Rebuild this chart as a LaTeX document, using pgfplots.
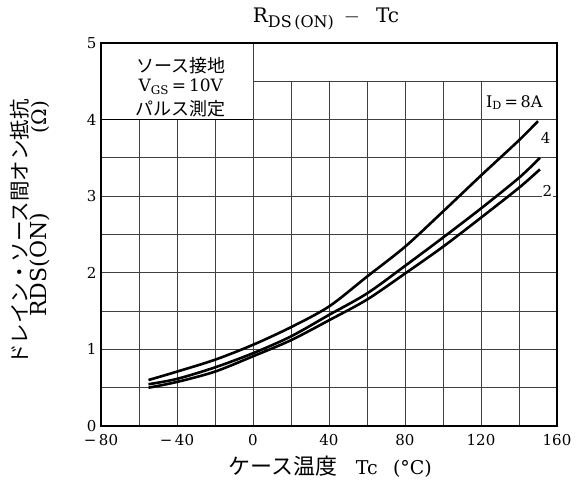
\documentclass[border=0pt]{standalone}
\usepackage{fontspec}
\setmainfont{DejaVu Serif}
\usepackage{pgfplots}
\pgfplotsset{compat=1.18}
\newfontfamily\jp{Noto Sans CJK JP}

\pgfplotstableread{
x y
-55 0.60
-40 0.71
-20 0.865
0 1.06
20 1.29
40 1.56
60 1.95
80 2.34
100 2.80
120 3.27
140 3.73
150 3.98
}\idA

\pgfplotstableread{
x y
-55 0.545
-40 0.615
-20 0.765
0 0.95
20 1.17
40 1.45
60 1.73
80 2.09
100 2.46
120 2.84
140 3.24
151 3.50
}\idB

\pgfplotstableread{
x y
-55 0.50
-40 0.575
-20 0.71
0 0.91
20 1.12
40 1.38
60 1.65
80 1.99
100 2.34
120 2.72
140 3.11
151 3.35
}\idC

\begin{document}
\begin{tikzpicture}
\tikzset{gl/.style={black!75, line width=0.8pt}}
\begin{axis}[
  name=ax,
  scale only axis,
  width=456pt, height=383pt,
  xmin=-80, xmax=160, ymin=0, ymax=5,
  xtick={-80,-40,...,160},
  xticklabels={−\,80,−\,40,0,40,80,120,160},
  minor xtick={-60,-20,...,140},
  ytick={0,...,5},
  yticklabels={0,1,2,3,4,5},
  minor ytick={0.5,1.5,...,4.5},
  grid=both,
  grid style={gl},
  minor grid style={gl},
  major grid style={gl},
  major tick length=0pt, minor tick length=0pt,
  axis line style={line width=1.8pt},
  tick label style={font=\fontsize{15}{18}\selectfont},
  xticklabel style={yshift=-5pt},
  yticklabel style={xshift=-1pt},
  clip=false,
]
% blank regions of the grid
\fill[white] (axis cs:-80,4) rectangle (axis cs:0,5);
\fill[white] (axis cs:0,4.5) rectangle (axis cs:160,5);
\fill[white] (axis cs:120,4) rectangle (axis cs:160,4.5);
\draw[gl] (axis cs:-80,4) -- (axis cs:160,4);
\draw[gl] (axis cs:0,4.5) -- (axis cs:160,4.5);
\draw[gl] (axis cs:0,4) -- (axis cs:0,5);
\draw[gl] (axis cs:120,4) -- (axis cs:120,4.5);
\draw[line width=1.2pt] (axis cs:-80,4) -- (axis cs:0,4);
\draw[line width=1.8pt] (rel axis cs:0,0) rectangle (rel axis cs:1,1);

\addplot[black, line width=2.6pt, smooth] table {\idA};
\addplot[black, line width=2.6pt, smooth] table {\idB};
\addplot[black, line width=2.6pt, smooth] table {\idC};

\node[font=\fontsize{18}{20}\selectfont\jp] at (axis cs:-38,4.71) {ソース接地};
\node[font=\fontsize{17}{20}\selectfont] at (axis cs:-38,4.43) {V\textsubscript{GS}\,=\,10V};
\node[font=\fontsize{18}{20}\selectfont\jp] at (axis cs:-38,4.14) {パルス測定};
\node[font=\fontsize{16}{20}\selectfont] at (axis cs:137.5,4.22) {I\textsubscript{D}\,=\,8A};
\node[font=\fontsize{15}{20}\selectfont] at (axis cs:154,3.76) {4};
\node[font=\fontsize{15}{20}\selectfont, fill=white, inner sep=1pt] at (axis cs:155,3.07) {2};
\end{axis}
\node[font=\fontsize{20}{22}\selectfont] at ([shift={(225pt,407pt)}]ax.south west)
  {R\raisebox{-0.25em}{\fontsize{16}{18}\selectfont DS\,(ON)}\hspace{0.5em}$-$\hspace{0.8em}Tc};
\node[font=\fontsize{19}{22}\selectfont] at ([shift={(229pt,-41pt)}]ax.south west)
  {{\jp\fontsize{22}{24}\selectfont ケース温度}\hspace{1em}Tc\hspace{0.8em}(°C)};
\node[rotate=90, font=\fontsize{20.5}{22}\selectfont\jp] at ([shift={(-81pt,194pt)}]ax.south west)
  {ドレイン・ソース間オン抵抗};
\node[rotate=90, font=\fontsize{22}{24}\selectfont] at ([shift={(-61pt,161pt)}]ax.south west)
  {RDS(ON)};
\node[rotate=90, font=\fontsize{20}{22}\selectfont] at ([shift={(-61pt,309pt)}]ax.south west)
  {(Ω)};
\pgfresetboundingbox
\path ([shift={(-101pt,-66pt)}]ax.south west) rectangle ([shift={(475pt,426pt)}]ax.south west);
\end{tikzpicture}
\end{document}
